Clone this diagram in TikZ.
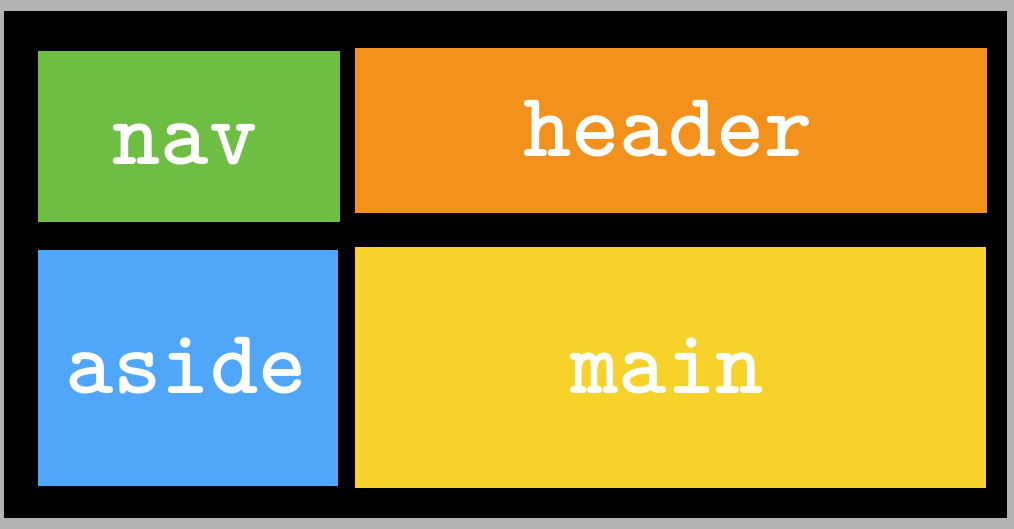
\documentclass[tikz,border=0pt]{standalone}
\usepackage{fontspec}
\usepackage{tikz}
\usetikzlibrary{calc}
\usepackage{color}
\definecolor{frame}{RGB}{178, 178, 178}
\definecolor{navgreen}{RGB}{110, 190, 68}
\definecolor{headerorange}{RGB}{242, 146, 29}
\definecolor{asideblue}{RGB}{80, 167, 250}
\definecolor{mainyellow}{RGB}{246, 210, 42}
\tikzset{label/.style={color=white, anchor=base, inner sep=0pt,
    font=\fontsize{92}{92}\selectfont\ttfamily\bfseries}}

\begin{document}
\begin{tikzpicture}[x=1pt, y=-1pt]
            \useasboundingbox (0, 0) rectangle (1014, 529);
            \fill[frame]                              (   0,   0) rectangle (1014, 529);
            \fill[black]                              (   4,  11) rectangle (1007, 518);
            \filldraw[color=black, fill=navgreen]     (  37,  50) rectangle ( 340, 222);
            \filldraw[color=black, fill=headerorange] ( 354,  47) rectangle ( 987, 213);
            \filldraw[color=black, fill=asideblue]    (  37, 249) rectangle ( 338, 486);
            \filldraw[color=black, fill=mainyellow]   ( 354, 246) rectangle ( 986, 488);
            \node[label] (nav)    at ( 185, 165) {nav};
            \node[label] (header) at ( 668, 157) {header};
            \node[label] (aside)  at ( 186, 393) {aside};
            \node[label] (main)   at ( 667, 393) {main};
        \end{tikzpicture}
\end{document}
